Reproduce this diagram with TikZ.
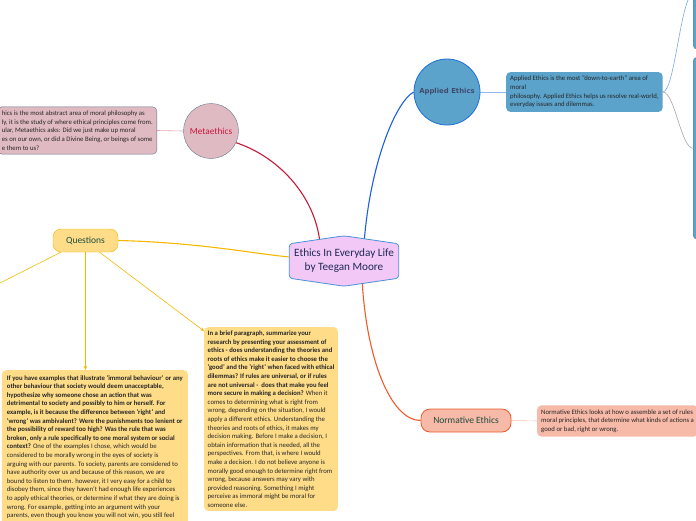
\documentclass[tikz,border=0pt]{standalone}
\usepackage{fontspec}
\setmainfont{Carlito}
\newfontfamily\wideface{DejaVu Sans}
\usepackage{tikz}
\usetikzlibrary{calc,arrows.meta,positioning,backgrounds}
\definecolor{hubfill}{HTML}{F2C8F7}
\definecolor{hubdraw}{HTML}{4A90D9}
\definecolor{navy}{HTML}{1F2A55}
\definecolor{metafill}{HTML}{E0BAC3}
\definecolor{metadraw}{HTML}{66758C}
\definecolor{crimson}{HTML}{C8173A}
\definecolor{appfill}{HTML}{5BA3CB}
\definecolor{appdraw}{HTML}{1E6FD6}
\definecolor{appline}{HTML}{1D5FE0}
\definecolor{qfill}{HTML}{FFDD88}
\definecolor{qdraw}{HTML}{F5B800}
\definecolor{normfill}{HTML}{F7B9A8}
\definecolor{normdraw}{HTML}{EE5A2A}
\definecolor{leaf}{HTML}{1B4D3E}
\definecolor{ink}{HTML}{262626}
\newcommand\bd{\bfseries}
\tikzset{
  hub/.style={align=center,minimum width=109pt,minimum height=34pt,inner sep=0pt,
    font=\fontsize{11.2}{14}\selectfont,text=navy},
  hubshape/.style={draw=hubdraw,fill=hubfill,thick,rounded corners=3pt},
  note/.style={rounded corners=4pt,align=left,inner sep=4pt,
    font=\fontsize{6.75}{8.6}\selectfont,text=ink},
  metacirc/.style={circle,minimum size=55pt,inner sep=0pt,fill=metafill,draw=metadraw,
    font=\fontsize{9.3}{11}\selectfont,text=crimson},
  appcirc/.style={circle,minimum size=66pt,inner sep=0pt,fill=appfill,draw=appdraw,thick,
    font=\wideface\bfseries\fontsize{6.9}{8}\selectfont,text=navy!85},
  qnode/.style={rounded corners=8pt,minimum width=65pt,minimum height=23pt,inner sep=0pt,
    fill=qfill,draw=qdraw,font=\fontsize{9.5}{11}\selectfont,text=leaf},
  normnode/.style={rounded corners=9pt,minimum width=90pt,minimum height=23pt,inner sep=0pt,
    fill=normfill,draw=normdraw,thick,font=\fontsize{9.5}{11}\selectfont,text=leaf},
  appbox/.style={rounded corners=4pt,minimum width=20pt,fill=appfill,draw=appfill!80!black},
  link/.style={line width=1.1pt},
  thin/.style={line width=0.6pt},
  qtip/.style={-{Stealth[length=4pt,width=3.5pt]}}
}
\begin{document}
\begin{tikzpicture}[x=1pt,y=-1pt]
\useasboundingbox (0,0) rectangle (696,520);

% main topics
\node[hub] (ctr) at (344,261) {Ethics In Everyday Life\\by Teegan Moore};
\node[metacirc] (meta) at (211,131) {Metaethics};
\node[appcirc] (app) at (447,92) {Applied Ethics};
\node[qnode] (q) at (85.5,240.5) {Questions};
\node[normnode] (norm) at (466,420.5) {Normative Ethics};

% notes
\node[note,fill=metafill,draw=metadraw,anchor=east] (metatxt) at (157,130.5)
  {hics is the most abstract area of moral philosophy as\\
   ly, it is the study of where ethical principles come from.\\
   ular, Metaethics asks: Did we just make up moral\\
   es on our own, or did a Divine Being, or beings of some\\
   e them to us?};
\node[note,fill=appfill,anchor=west] (apptxt) at (506,92)
  {Applied Ethics is the most "down-to-earth" area of\\
   moral\\
   philosophy. Applied Ethics helps us resolve real-world,\\
   everyday issues and dilemmas.};
\node[note,fill=normfill,anchor=west] (normtxt) at (537,421)
  {Normative Ethics looks at how o assemble a set of rules\\
   moral principles, that determine what kinds of actions a\\
   good or bad, right or wrong.};
\node[note,fill=qfill,anchor=north east,inner sep=5pt] (lbox) at (188,370)
  {\bd If you have examples that illustrate 'immoral behaviour' or any\\
   \bd other behaviour that society would deem unacceptable,\\
   \bd hypothesize why someone chose an action that was\\
   \bd detrimental to society and possibly to him or herself. For\\
   \bd example, is it because the difference between 'right' and\\
   \bd 'wrong' was ambivalent? Were the punishments too lenient or\\
   \bd the possibility of reward too high? Was the rule that was\\
   \bd broken, only a rule specifically to one moral system or social\\
   {\bd context?} One of the examples I chose, which would be\\
   considered to be morally wrong in the eyes of society is\\
   arguing with our parents. To society, parents are considered to\\
   have authority over us and because of this reason, we are\\
   bound to listen to them. however, it I very easy for a child to\\
   disobey them, since they haven't had enough life experiences\\
   to apply ethical theories, or determine if what they are doing is\\
   wrong. For example, getting into an argument with your\\
   parents, even though you know you will not win, you still feel\\
   \strut};
\node[note,fill=qfill,anchor=north west,inner sep=3.5pt] (mbox) at (204,327)
  {\bd In a brief paragraph, summarize your\\
   \bd research by presenting your assessment of\\
   \bd ethics - does understanding the theories and\\
   \bd roots of ethics make it easier to choose the\\
   \bd 'good' and the 'right' when faced with ethical\\
   \bd dilemmas? If rules are universal, or if rules\\
   \bd are not universal -~ does that make you feel\\
   {\bd more secure in making a decision?} When it\\
   comes to determining what is right from\\
   wrong, depending on the situation, I would\\
   apply a different ethics. Understanding the\\
   theories and roots of ethics, it makes my\\
   decision making. Before I make a decision, I\\
   obtain information that is needed, all the\\
   perspectives. From that, is where I would\\
   make a decision. I do not believe anyone is\\
   morally good enough to determine right from\\
   wrong, because answers may vary with\\
   provided reasoning. Something I might\\
   perceive as immoral might be moral for\\
   someone else.};
\node[appbox,minimum height=110pt,anchor=north west] (rtop) at (693,-61) {};
\node[appbox,minimum height=182pt,anchor=north west] (rbot) at (693,57) {};
\coordinate (qout) at (0,283);

\begin{scope}[on background layer]
% branches
\draw[link,crimson] (meta.-25) .. controls +(45,15) and +(-4,-45) .. ([xshift=-24pt]ctr.north);
\draw[link,appline] ([xshift=20pt]ctr.north) .. controls +(6,-80) and +(-18,10) .. (app.west);
\draw[link,normdraw] ([xshift=18pt]ctr.south) .. controls +(4,80) and +(-30,0) .. (norm.west);
\draw[link,qdraw] (q.east) .. controls +(80,2) and +(-40,-4) .. ([yshift=4pt]ctr.west);
% questions
\draw[thin,qdraw] ([xshift=8pt]q.south west) -- (qout);
\draw[thin,qdraw,qtip] (q.south) -- (q.south |- lbox.north);
\draw[thin,qdraw,qtip] ([xshift=14pt]q.south) -- ([yshift=-4pt]mbox.north west);
% notes
\draw[thin,crimson!40] (metatxt.east) -- (meta.west);
\draw[thin,appdraw!50] (app.east) -- (apptxt.west);
\draw[thin,normdraw!35] (norm.east) -- (normtxt.west);
\draw[thin,appdraw!60] (apptxt.east) .. controls +(12,0) and +(-12,0) .. (rtop.west);
\draw[thin,gray!70] (apptxt.east) .. controls +(12,0) and +(-12,0) .. (rbot.west);
% hub outline
\draw[hubshape] (ctr.north west) -- ([yshift=8pt]ctr.north) -- (ctr.north east)
  -- (ctr.south east) -- ([yshift=-8pt]ctr.south) -- (ctr.south west) -- cycle;
\end{scope}
\end{tikzpicture}
\end{document}
